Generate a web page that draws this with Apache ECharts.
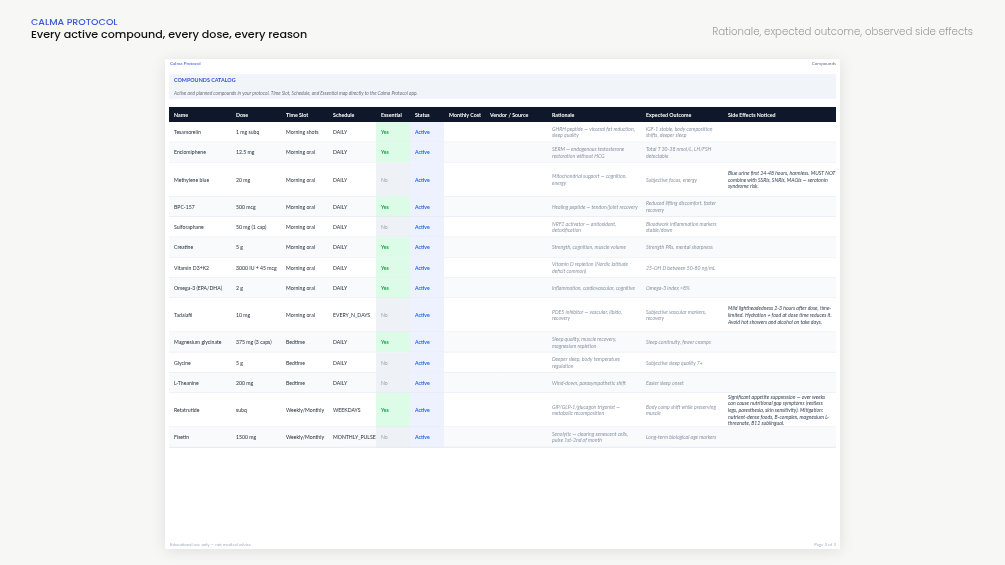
<!DOCTYPE html>
<html><head><meta charset="utf-8">
<script src="https://cdn.jsdelivr.net/npm/echarts@6/dist/echarts.min.js"></script>
<style>html,body{margin:0;padding:0;background:#f7f7f5;}#c{width:1005px;height:565px;}</style>
</head><body><div id="c"></div>
<script>
// ---------- DATA ----------
const headers = ['Name','Dose','Time Slot','Schedule','Essential','Status','Monthly Cost','Vendor / Source','Rationale','Expected Outcome','Side Effects Noticed'];
const names = ['Tesamorelin','Enclomiphene','Methylene blue','BPC-157','Sulforaphane','Creatine','Vitamin D3+K2','Omega-3 (EPA/DHA)','Tadalafil','Magnesium glycinate','Glycine','L-Theanine','Retatrutide','Fisetin'];
const doses = ['1 mg subq','12.5 mg','20 mg','500 mcg','50 mg (1 cap)','5 g','3000 IU + 45 mcg','2 g','10 mg','375 mg (3 caps)','5 g','200 mg','subq','1500 mg'];
const timeSlots = ['Morning shots','Morning oral','Morning oral','Morning oral','Morning oral','Morning oral','Morning oral','Morning oral','Morning oral','Bedtime','Bedtime','Bedtime','Weekly/Monthly','Weekly/Monthly'];
const schedules = ['DAILY','DAILY','DAILY','DAILY','DAILY','DAILY','DAILY','DAILY','EVERY_N_DAYS','DAILY','DAILY','DAILY','WEEKDAYS','MONTHLY_PULSE'];
const essential = ['Yes','Yes','No','Yes','No','Yes','Yes','Yes','No','Yes','No','No','Yes','No'];
const statuses = ['Active','Active','Active','Active','Active','Active','Active','Active','Active','Active','Active','Active','Active','Active'];
const monthlyCost = ['','','','','','','','','','','','','',''];
const vendors = ['','','','','','','','','','','','','',''];
const rationale = [
 'GHRH peptide — visceral fat reduction,\nsleep quality',
 'SERM — endogenous testosterone\nrestoration without HCG',
 'Mitochondrial support — cognition,\nenergy',
 'Healing peptide — tendon/joint recovery',
 'NRF2 activator — antioxidant,\ndetoxification',
 'Strength, cognition, muscle volume',
 'Vitamin D repletion (Nordic latitude\ndeficit common)',
 'Inflammation, cardiovascular, cognitive',
 'PDE5 inhibitor — vascular, libido,\nrecovery',
 'Sleep quality, muscle recovery,\nmagnesium repletion',
 'Deeper sleep, body temperature\nregulation',
 'Wind-down, parasympathetic shift',
 'GIP/GLP-1/glucagon trigonist —\nmetabolic recomposition',
 'Senolytic — clearing senescent cells,\npulse 1st-2nd of month'
];
const outcomes = [
 'IGF-1 stable, body composition\nshifts, deeper sleep',
 'Total T 30-38 nmol/L, LH/FSH\ndetectable',
 'Subjective focus, energy',
 'Reduced lifting discomfort, faster\nrecovery',
 'Bloodwork inflammation markers\nstable/down',
 'Strength PRs, mental sharpness',
 '25-OH D between 50-80 ng/mL',
 'Omega-3 index >8%',
 'Subjective vascular markers,\nrecovery',
 'Sleep continuity, fewer cramps',
 'Subjective sleep quality 7+',
 'Easier sleep onset',
 'Body comp shift while preserving\nmuscle',
 'Long-term biological age markers'
];
const sideEffects = [
 '','',
 'Blue urine first 24-48 hours, harmless. MUST NOT\ncombine with SSRIs, SNRIs, MAOIs — serotonin\nsyndrome risk.',
 '','','','','',
 'Mild lightheadedness 2-3 hours after dose, time-\nlimited. Hydration + food at dose time reduces it.\nAvoid hot showers and alcohol on take days.',
 '','','',
 'Significant appetite suppression — over weeks\ncan cause nutritional gap symptoms (restless\nlegs, paresthesia, skin sensitivity). Mitigation:\nnutrient-dense foods, B-complex, magnesium L-\nthreonate, B12 sublingual.',
 ''
];

// ---------- LAYOUT ----------
const COL_W = [62,50,47,48,34,34,41,62,94,82,113];
const colX = [0]; COL_W.forEach(w => colX.push(colX[colX.length-1] + w));
const TABLE_W = colX[colX.length-1];
const HEAD_H = 15;
const lineCount = s => s ? s.split('\n').length : 1;
const rowH = names.map((_, i) => Math.max(lineCount(rationale[i]), lineCount(outcomes[i]), lineCount(sideEffects[i])) <= 2 ? 20.3 : 34);
const rowY = [HEAD_H]; rowH.forEach(h => rowY.push(rowY[rowY.length-1] + h));
const TABLE_H = rowY[rowY.length-1];
const PAD = 5;
const FONT = 'Lato, "Noto Sans", sans-serif';
const FS = '5.15px ';

const chart = echarts.init(document.getElementById('c'));

function renderHeader(params, api) {
  const p0 = api.coord([0, 0]), p1 = api.coord([TABLE_W, HEAD_H]);
  const children = [{type:'rect', shape:{x:p0[0], y:p0[1], width:p1[0]-p0[0], height:p1[1]-p0[1]}, style:{fill:'#0f172a'}}];
  headers.forEach((h, c) => {
    const p = api.coord([colX[c] + PAD, HEAD_H/2 + 0.5]);
    children.push({type:'text', style:{text:h, x:p[0], y:p[1], verticalAlign:'middle', font:'bold 5.3px ' + FONT, fill:'#ffffff'}});
  });
  return {type:'group', children};
}

function renderRow(params, api) {
  const i = api.value(0);
  const y0 = rowY[i], h = rowH[i], yc = y0 + h/2;
  const p0 = api.coord([0, y0]), p1 = api.coord([TABLE_W, y0 + h]);
  const children = [];
  children.push({type:'rect', shape:{x:p0[0], y:p0[1], width:p1[0]-p0[0], height:p1[1]-p0[1]}, style:{fill: i % 2 ? '#f8fafc' : '#ffffff'}});
  const e0 = api.coord([colX[4], y0]), e1 = api.coord([colX[5], y0 + h]);
  children.push({type:'rect', shape:{x:e0[0], y:e0[1], width:e1[0]-e0[0], height:e1[1]-e0[1]}, style:{fill: essential[i] === 'Yes' ? '#dcfce7' : '#eef2f7'}});
  const s0 = api.coord([colX[5], y0]), s1 = api.coord([colX[6], y0 + h]);
  children.push({type:'rect', shape:{x:s0[0], y:s0[1], width:s1[0]-s0[0], height:s1[1]-s0[1]}, style:{fill:'#eef2ff'}});
  children.push({type:'line', shape:{x1:p0[0], y1:p1[1], x2:p1[0], y2:p1[1]}, style:{stroke:'#e5e9f0', lineWidth:1}});
  const cells = [
    [names[i], FS + FONT, '#1f2937'],
    [doses[i], FS + FONT, '#1f2937'],
    [timeSlots[i], FS + FONT, '#1f2937'],
    [schedules[i], FS + FONT, '#1f2937'],
    [essential[i], (essential[i] === 'Yes' ? 'bold ' : '') + FS + FONT, essential[i] === 'Yes' ? '#16a34a' : '#94a3b8'],
    [statuses[i], 'bold ' + FS + FONT, '#2563eb'],
    [monthlyCost[i], FS + FONT, '#1f2937'],
    [vendors[i], FS + FONT, '#1f2937'],
    [rationale[i], 'italic ' + FS + FONT, '#8a94a6'],
    [outcomes[i], 'italic ' + FS + FONT, '#8a94a6'],
    [sideEffects[i], 'italic ' + FS + FONT, '#334155']
  ];
  cells.forEach((cell, c) => {
    if (!cell[0]) return;
    const p = api.coord([colX[c] + PAD, yc + 0.3]);
    children.push({type:'text', style:{text:cell[0], x:p[0], y:p[1], verticalAlign:'middle', font:cell[1], fill:cell[2], lineHeight:6.6}});
  });
  return {type:'group', children};
}

const TITLE_FONT = 'Poppins, Inter, "Noto Sans", sans-serif';
chart.setOption({
  backgroundColor:'#f7f7f5',
  animation:false,
  grid:{left:169, top:107, width:TABLE_W, height:TABLE_H},
  xAxis:{type:'value', min:0, max:TABLE_W, show:false},
  yAxis:{type:'value', min:0, max:TABLE_H, inverse:true, show:false},
  graphic:[
    {type:'text', left:31, top:17.5, style:{text:'CALMA PROTOCOL', font:'500 9.5px ' + TITLE_FONT, fill:'#3d5ad6'}},
    {type:'text', left:31, top:29.5, style:{text:'Every active compound, every dose, every reason', font:'500 11.1px ' + TITLE_FONT, fill:'#111111'}},
    {type:'text', right:32, top:27, style:{text:'Rationale, expected outcome, observed side effects', font:'300 10.2px ' + TITLE_FONT, fill:'#9a9a9a'}},
    {type:'rect', left:165, top:59, shape:{width:675, height:490}, style:{fill:'#ffffff', shadowBlur:14, shadowColor:'rgba(0,0,0,0.10)', shadowOffsetY:2}},
    {type:'text', left:170, top:61, style:{text:'Calma Protocol', font:'4.6px ' + FONT, fill:'#3d5ad6'}},
    {type:'text', right:169, top:61, style:{text:'Compounds', font:'4.6px ' + FONT, fill:'#6b7280'}},
    {type:'rect', left:169, top:74, shape:{width:TABLE_W, height:25, r:2}, style:{fill:'#f1f4f9'}},
    {type:'text', left:174, top:78, style:{text:'COMPOUNDS CATALOG', font:'bold 5.4px ' + FONT, fill:'#2f55d4'}},
    {type:'text', left:174, top:90.5, style:{text:'Active and planned compounds in your protocol. Time Slot, Schedule, and Essential map directly to the Calma Protocol app.', font:'italic 4.8px ' + FONT, fill:'#6b7280'}},
    {type:'text', left:170, top:542.5, style:{text:'Educational use only — not medical advice', font:'4.4px ' + FONT, fill:'#a3acbd'}},
    {type:'text', right:169, top:542.5, style:{text:'Page 2 of 3', font:'4.4px ' + FONT, fill:'#a3acbd'}}
  ],
  series:[
    {type:'custom', renderItem:renderHeader, data:[[0]], silent:true, clip:false},
    {type:'custom', renderItem:renderRow, data:names.map((_, i) => [i]), silent:true, clip:false}
  ]
});
</script></body></html>
